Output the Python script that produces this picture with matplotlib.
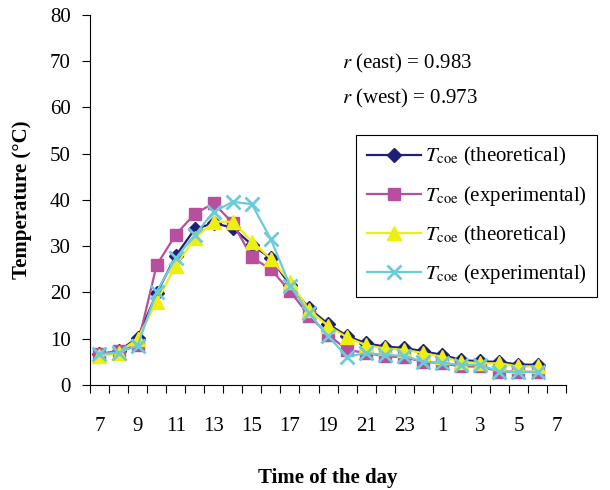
import numpy as np
import matplotlib.pyplot as plt

plt.rcParams['font.family'] = ['Liberation Serif', 'DejaVu Serif']
plt.rcParams['mathtext.fontset'] = 'stix'

# hours of the day, 7 am to 7 am next day (last slot has no data)
hour_labels = ['7', '9', '11', '13', '15', '17', '19', '21', '23', '1', '3', '5', '7']

# east wall
east_theo = [6.6, 7.3, 10.2, 19.8, 27.9, 33.7, 35.0, 34.0, 30.3, 27.4, 21.6, 16.6,
             13.2, 10.6, 9.0, 8.3, 8.0, 7.3, 6.5, 5.4, 5.1, 5.0, 4.4, 4.4]
east_exp = [6.7, 7.4, 8.6, 25.9, 32.5, 37.0, 39.3, 35.0, 27.6, 25.0, 20.3, 15.0,
            10.9, 7.6, 6.9, 6.2, 6.0, 5.0, 4.7, 4.0, 4.0, 2.9, 2.9, 2.8]
# west wall
west_theo = [6.2, 7.0, 10.0, 18.0, 25.8, 31.7, 35.3, 35.3, 31.0, 27.3, 22.3, 16.2,
             12.8, 10.3, 8.6, 7.9, 7.6, 6.9, 6.1, 5.0, 4.7, 4.7, 4.0, 4.0]
west_exp = [6.7, 7.0, 8.5, 20.2, 27.4, 32.4, 37.5, 39.6, 39.1, 31.5, 21.5, 15.5,
            10.6, 6.1, 6.9, 6.5, 6.3, 5.0, 4.8, 4.3, 4.3, 2.9, 2.8, 2.8]

x = np.arange(len(east_theo))

fig = plt.figure(figsize=(6.1, 4.9), dpi=100)
ax = fig.add_axes([0.1475, 0.2143, 0.7805, 0.7551])

lbl_theo = r'$T_{\rm coe}$ (theoretical)'
lbl_exp = r'$T_{\rm coe}$ (experimental)'
ax.plot(x, east_theo, color='#1F1F78', lw=1.6, marker='D', ms=7.5, label=lbl_theo)
ax.plot(x, east_exp, color='#B94E9E', lw=1.6, marker='s', ms=9, label=lbl_exp)
ax.plot(x, west_theo, color='#EEEE10', lw=1.6, marker='^', ms=10, label=lbl_theo)
ax.plot(x, west_exp, color='#6CCAD9', lw=1.6, marker='x', ms=10.5, mew=2, label=lbl_exp)

ax.set_xlim(-0.5, 24.5)
ax.set_ylim(0, 80)
ax.set_yticks(np.arange(0, 81, 10))
ax.set_xticks(np.arange(0, 25, 2))
ax.set_xticklabels(hour_labels)
ax.set_xticks(np.arange(-0.5, 25, 1), minor=True)
ax.tick_params(axis='x', which='major', length=0, pad=23, labelsize=15)
ax.tick_params(axis='x', which='minor', length=6, width=0.8, direction='out')
ax.tick_params(axis='y', length=6, width=0.8, direction='out', pad=8, labelsize=15)

ax.spines['top'].set_visible(False)
ax.spines['right'].set_visible(False)

ax.set_xlabel('Time of the day', fontsize=15, fontweight='bold', labelpad=23)
ax.set_ylabel('Temperature (°C)', fontsize=15, fontweight='bold', labelpad=13)

ax.text(0.53, 0.868, r'$r$ (east) = 0.983', transform=ax.transAxes, fontsize=15,
        va='center')
ax.text(0.53, 0.773, r'$r$ (west) = 0.973', transform=ax.transAxes, fontsize=15,
        va='center')

leg = ax.legend(loc='upper left', bbox_to_anchor=(0.559, 0.676), fontsize=15,
                frameon=True, fancybox=False, edgecolor='black', framealpha=1,
                handlelength=2.6, labelspacing=0.75, borderpad=0.5,
                handletextpad=0.2, borderaxespad=0)
leg.get_frame().set_linewidth(0.8)

fig.savefig('out.png', dpi=100)
